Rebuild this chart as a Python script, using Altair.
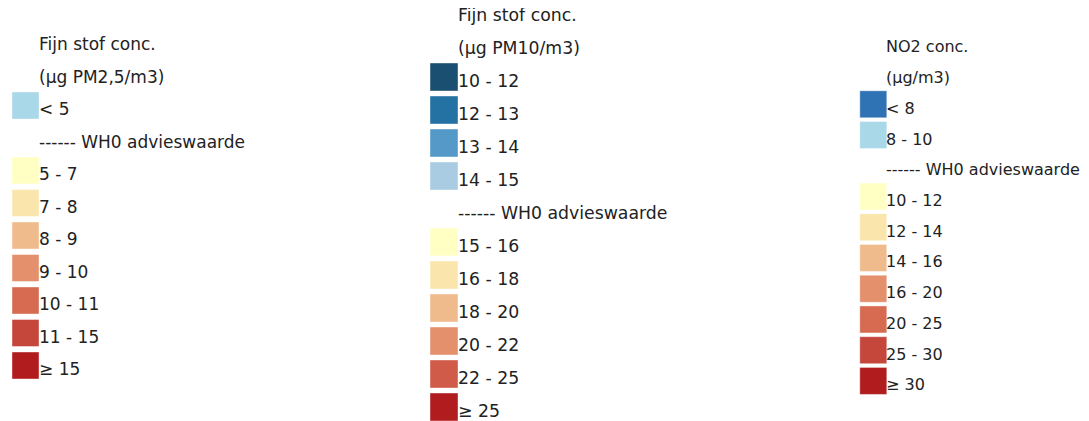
import altair as alt
import pandas as pd

# ---- data -------------------------------------------------------------
pm25_labels = ["Fijn stof conc.", "(µg PM2,5/m3)", "< 5", "------ WH0 advieswaarde",
               "5 - 7", "7 - 8", "8 - 9", "9 - 10", "10 - 11", "11 - 15", "≥ 15"]
pm25_colors = ["", "", "#a9d8e8", "", "#ffffc4", "#fae6ad", "#f0bb8c",
               "#e4906d", "#d66b51", "#c5463b", "#b11d1e"]

pm10_labels = ["Fijn stof conc.", "(µg PM10/m3)", "10 - 12", "12 - 13", "13 - 14", "14 - 15",
               "------ WH0 advieswaarde", "15 - 16", "16 - 18", "18 - 20", "20 - 22",
               "22 - 25", "≥ 25"]
pm10_colors = ["", "", "#1b4f72", "#2471a3", "#5499c7", "#a9cce3", "", "#ffffc4",
               "#fae6ad", "#f0bb8c", "#e4906d", "#cf5b48", "#b11d1e"]

no2_labels = ["NO2 conc.", "(µg/m3)", "< 8", "8 - 10", "------ WH0 advieswaarde",
              "10 - 12", "12 - 14", "14 - 16", "16 - 20", "20 - 25", "25 - 30", "≥ 30"]
no2_colors = ["", "", "#2f73b5", "#a9d8e8", "", "#ffffc4", "#fae6ad", "#f0bb8c",
              "#e4906d", "#d66b51", "#c5463b", "#b11d1e"]

# ---- layout -----------------------------------------------------------
H = 425
FONT = "DejaVu Sans"


def panel(labels, colors, width, pitch, first_center, sq_x, txt_x, side, fs):
    df = pd.DataFrame({"row": list(range(len(labels))), "label": labels, "color": colors})
    ymin = -(first_center - 8) / pitch
    ymax = ymin + H / pitch
    y = alt.Y("row:Q", axis=None,
              scale=alt.Scale(domain=[ymin, ymax], reverse=True, zero=False, nice=False))
    base = alt.Chart(df)
    squares = base.transform_filter("datum.color != ''").mark_square(
        size=side * side, opacity=1, stroke="white", strokeOpacity=0.4, strokeWidth=1
    ).encode(x=alt.value(sq_x), y=y, color=alt.Color("color:N", scale=None))
    texts = base.mark_text(
        align="left", baseline="middle", dy=4.5, font=FONT, fontSize=fs, color="#222222",
        clip=True
    ).encode(x=alt.value(txt_x), y=y, text="label:N")
    return alt.layer(squares, texts).properties(width=width, height=H)


p1 = panel(pm25_labels, pm25_colors, 418, 32.5, 40.5, 17.5, 31.0, 27, 17)
p2 = panel(pm10_labels, pm10_colors, 430, 33.0, 11.0, 18.0, 32.0, 28, 17.3)
p3 = panel(no2_labels, no2_colors, 225, 30.74, 42.8, 17.3, 30.0, 27, 16.0)

chart = alt.hconcat(p1, p2, p3, spacing=0, bounds="flush").properties(
    padding=0
).configure_view(stroke=None)

chart.save("out.html", embed_options={"renderer": "svg", "actions": False})
